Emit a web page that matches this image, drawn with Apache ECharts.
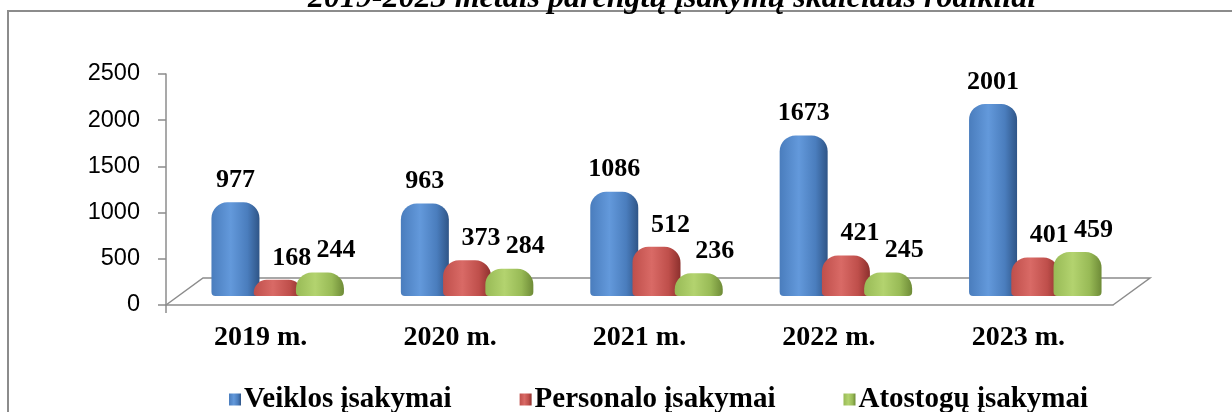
<!DOCTYPE html>
<html>
<head>
<meta charset="utf-8">
<script src="https://cdn.jsdelivr.net/npm/echarts@6/dist/echarts.min.js"></script>
<style>
    html, body { margin: 0; padding: 0; background: #fff; }
    #chart { width: 1232px; height: 412px; }
</style>
</head>
<body>
<div id="chart"></div>
<script>
// duomenys
const years = ['2019 m.', '2020 m.', '2021 m.', '2022 m.', '2023 m.']
const veiklos = [977, 963, 1086, 1673, 2001]
const personalo = [168, 373, 512, 421, 401]
const atostogu = [244, 284, 236, 245, 459]
const yTicks = [0, 500, 1000, 1500, 2000, 2500]

const serif = 'Liberation Serif'

// axis box (front edge of the 3D floor)
const axisLeft = 166
const axisRight = 1113
const axisTop = 74
const axisBottom = 305
// depth offset of the back wall
const depthX = 17
const depthY = -9

function barGradient(left, mid, right) {
    return new echarts.graphic.LinearGradient(0, 0, 1, 0, [
        { offset: 0, color: left },
        { offset: 0.4, color: mid },
        { offset: 0.75, color: left },
        { offset: 1, color: right }
    ])
}

const blue = barGradient('#4a7dbd', '#6399db', '#2f5587')
const red = barGradient('#bf4f4b', '#d96a66', '#8c302d')
const green = barGradient('#98ba56', '#b3d36f', '#6e8b37')

const labelStyle = {
    show: true,
    position: 'top',
    distance: 9,
    color: '#000',
    fontFamily: serif,
    fontWeight: 'bold',
    fontSize: 26
}

function makeSeries(name, data, color, dx) {
    return {
        name: name,
        type: 'bar',
        xAxisIndex: 1,
        yAxisIndex: 1,
        data: data,
        barWidth: 48,
        barGap: '-12%',
        itemStyle: {
            color: color,
            borderRadius: [16, 16, 4, 4]
        },
        label: Object.assign({}, labelStyle, { offset: [dx, 0] })
    }
}

const chart = echarts.init(document.getElementById('chart'))

const W = 1232
const H = 412

const option = {
    backgroundColor: '#fff',
    animation: false,
    title: {
        text: '2019-2023 metais parengtų įsakymų skaičiaus rodikliai',
        left: 303,
        top: -22,
        textStyle: {
            fontFamily: serif,
            fontStyle: 'italic',
            fontWeight: 'bold',
            fontSize: 32,
            color: '#000'
        }
    },
    legend: {
        left: 224,
        top: 380,
        itemWidth: 12,
        itemHeight: 12,
        itemGap: 68,
        icon: 'rect',
        textStyle: {
            fontFamily: serif,
            fontWeight: 'bold',
            fontSize: 29,
            color: '#000',
            padding: [0, 0, 0, -2]
        },
        data: ['Veiklos įsakymai', 'Personalo įsakymai', 'Atostogų įsakymai']
    },
    grid: [
        {
            left: axisLeft,
            right: W - axisRight,
            top: axisTop,
            bottom: H - axisBottom
        },
        {
            // bars stand on the back part of the floor
            left: axisLeft + depthX,
            right: W - axisRight - depthX,
            top: 56,
            bottom: H - axisBottom - depthY
        }
    ],
    xAxis: [
        {
            type: 'category',
            gridIndex: 0,
            data: years,
            axisLine: { lineStyle: { color: '#8c8c8c', width: 1.5 } },
            axisTick: { length: 8, lineStyle: { color: '#8c8c8c', width: 1.5 } },
            axisLabel: {
                margin: 19,
                color: '#000',
                fontFamily: serif,
                fontWeight: 'bold',
                fontSize: 28
            }
        },
        {
            type: 'category',
            gridIndex: 1,
            data: years,
            show: false
        }
    ],
    yAxis: [
        {
            type: 'value',
            gridIndex: 0,
            min: yTicks[0],
            max: yTicks[yTicks.length - 1],
            interval: yTicks[1] - yTicks[0],
            splitLine: { show: false },
            axisLine: { show: true, lineStyle: { color: '#8c8c8c', width: 1.5 } },
            axisTick: { show: true, length: 8, lineStyle: { color: '#8c8c8c', width: 1.5 } },
            axisLabel: {
                margin: 26,
                color: '#000',
                fontFamily: 'Liberation Sans',
                fontSize: 23.5,
                formatter: v => String(v)
            }
        },
        {
            type: 'value',
            gridIndex: 1,
            min: yTicks[0],
            max: yTicks[yTicks.length - 1],
            show: false
        }
    ],
    graphic: [
        // chart frame
        {
            type: 'rect',
            shape: { x: 8, y: 11, width: 1400, height: 600 },
            style: { fill: null, stroke: '#8c8c8c', lineWidth: 2 },
            silent: true
        },
        // 3D floor
        {
            type: 'polyline',
            shape: {
                points: [
                    [axisLeft, axisBottom],
                    [axisLeft + 37, axisBottom - 27],
                    [axisRight + 37, axisBottom - 27],
                    [axisRight, axisBottom]
                ]
            },
            style: { stroke: '#8c8c8c', lineWidth: 1.5, fill: null },
            silent: true,
            z: 0
        },
        // y axis tail below the floor
        {
            type: 'line',
            shape: { x1: axisLeft, y1: axisBottom, x2: axisLeft, y2: axisBottom + 8 },
            style: { stroke: '#8c8c8c', lineWidth: 1.5 },
            silent: true
        }
    ],
    series: [
        makeSeries('Veiklos įsakymai', veiklos, blue, 0),
        makeSeries('Personalo įsakymai', personalo, red, 14),
        makeSeries('Atostogų įsakymai', atostogu, green, 16)
    ]
}

chart.setOption(option)
</script>
</body>
</html>
